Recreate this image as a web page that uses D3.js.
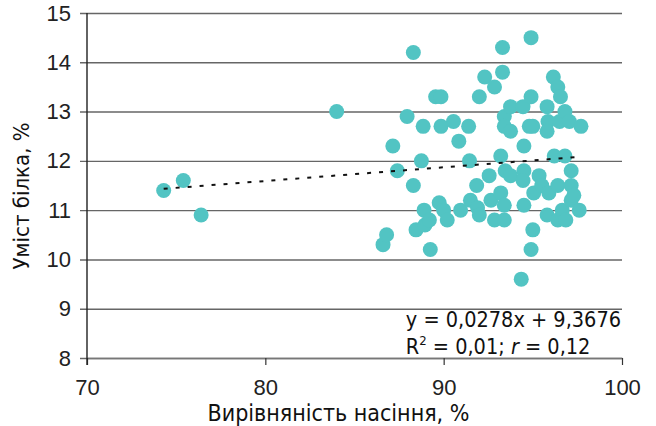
<!DOCTYPE html>
<html>
<head>
<meta charset="utf-8">
<script src="https://cdn.jsdelivr.net/npm/d3@7"></script>
<style>
  body { margin: 0; background: #fff; }
  svg { display: block; font-family: "DejaVu Sans Condensed", "DejaVu Sans", sans-serif; }
</style>
</head>
<body>
<svg id="chart" width="656" height="426"></svg>
<script>
// seed evenness, % (x) and protein content, % (y)
const evenness = [
  74.3, 75.4, 76.4, 84.0,
  86.6, 86.8, 87.15, 87.4, 87.95, 88.3, 88.3, 88.45, 88.75, 88.85, 88.9, 88.95,
  89.2, 89.25, 89.55, 89.85, 89.85, 89.75, 90.0, 90.2, 90.55, 90.85, 90.95,
  91.4, 91.45, 91.5, 91.85, 91.9, 92.0, 92.0, 92.3, 92.55, 92.65, 92.85, 92.85,
  93.2, 93.3, 93.3, 93.2, 93.4, 93.4, 93.4, 93.4, 93.45, 93.75, 93.75, 93.75,
  94.35, 94.45, 94.5, 94.5, 94.45, 94.5, 94.9, 94.9, 94.8, 95.0, 94.9, 95.0,
  95.05, 95.35, 95.5, 95.8, 95.85, 95.8, 95.9, 95.8, 96.15, 96.2, 96.4, 96.4,
  96.4, 96.5, 96.55, 96.65, 96.8, 96.8, 96.85, 97.05, 97.15, 97.15, 97.15,
  97.3, 97.6, 97.7
];
const protein = [
  11.4, 11.6, 10.9, 13.0,
  10.3, 10.5, 12.3, 11.8, 12.9, 14.2, 11.5, 10.6, 12.0, 12.7, 11.0, 10.7,
  10.8, 10.2, 13.3, 13.3, 12.7, 11.15, 11.0, 10.8, 12.8, 12.4, 11.0,
  12.7, 12.0, 11.2, 11.5, 11.05, 13.3, 10.9, 13.7, 11.7, 11.2, 13.5, 10.8,
  12.1, 14.3, 13.8, 11.35, 12.9, 12.7, 11.1, 10.8, 11.8, 13.1, 12.6, 11.7,
  9.6, 13.1, 12.3, 11.8, 11.6, 11.1, 14.5, 13.3, 12.7, 12.7, 10.2, 10.6,
  11.35, 11.7, 11.5, 13.1, 12.8, 12.6, 11.35, 10.9, 13.7, 12.1, 13.5, 11.5,
  10.8, 12.8, 13.3, 11.0, 13.0, 12.1, 10.8, 12.8, 11.8, 11.5, 11.2,
  11.3, 11.0, 12.7
];
const xTicks = [70, 80, 90, 100];
const yTicks = [8, 9, 10, 11, 12, 13, 14, 15];
const slope = 0.0278, intercept = 9.3676;

const svg = d3.select("#chart");
const W = 656, H = 426;
const margin = { top: 13, right: 34, bottom: 68, left: 87 };
const width = W - margin.left - margin.right;
const height = H - margin.top - margin.bottom;

const g = svg.append("g").attr("transform", `translate(${margin.left},${margin.top})`);

const x = d3.scaleLinear().domain([70, 100]).range([0, width]);
const y = d3.scaleLinear().domain([8, 15]).range([height, 0]);

// Y axis with gridlines
g.append("g")
  .attr("class", "yAxis")
  .call(d3.axisLeft(y).tickValues(yTicks).tickFormat(d3.format("d"))
    .tickSizeInner(-width).tickSizeOuter(0).tickPadding(16))
  .call((a) => a.select(".domain").remove())
  .call((a) => a.selectAll(".tick line").attr("x1", -7).attr("stroke", "#666").attr("stroke-width", 1.4))
  .call((a) => a.selectAll(".tick text").attr("font-size", 22).attr("fill", "#222"));

// X axis
g.append("g")
  .attr("class", "xAxis")
  .attr("transform", `translate(0,${height})`)
  .call(d3.axisBottom(x).tickValues(xTicks).tickFormat(d3.format("d"))
    .tickSizeInner(7).tickSizeOuter(0).tickPadding(14))
  .call((a) => a.select(".domain").attr("stroke", "#777").attr("stroke-width", 1.4))
  .call((a) => a.selectAll(".tick line").attr("stroke", "#333").attr("stroke-width", 1.2))
  .call((a) => a.selectAll(".tick text").attr("font-size", 22).attr("fill", "#222"));

// vertical axis line
g.append("line")
  .attr("x1", 0).attr("x2", 0)
  .attr("y1", 0).attr("y2", height + 7)
  .attr("stroke", "#222").attr("stroke-width", 1.4);

// points
const pts = evenness.map((v, i) => ({ x: v, y: protein[i] }));
g.append("g")
  .selectAll("circle")
  .data(pts)
  .join("circle")
  .attr("cx", (d) => x(d.x))
  .attr("cy", (d) => y(d.y))
  .attr("r", 7.5)
  .attr("fill", "#52c4c3");

// trend line
const ext = d3.extent(evenness);
g.append("path")
  .datum(ext)
  .attr("fill", "none")
  .attr("stroke", "#111")
  .attr("stroke-width", 2)
  .attr("stroke-dasharray", "4,8")
  .attr("d", d3.line().x((d) => x(d)).y((d) => y(slope * d + intercept)));

// equation
const eq = g.append("g").attr("font-size", 21.5).attr("fill", "#111");
const l1 = eq.append("text")
  .attr("x", x(100) - 1).attr("y", y(8) - 31)
  .attr("text-anchor", "end")
  .text("y = 0,0278x + 9,3676");
const left = x(100) - 1 - l1.node().getComputedTextLength();
const l2 = eq.append("text").attr("x", left).attr("y", y(8) - 4);
l2.append("tspan").text("R");
l2.append("tspan").attr("font-size", 13).attr("dy", -9).text("2");
l2.append("tspan").attr("dy", 9).text(" = 0,01; ");
l2.append("tspan").attr("font-style", "italic").text("r");
l2.append("tspan").text(" = 0,12");

// axis titles
svg.append("text")
  .attr("x", margin.left + width / 2 - 16)
  .attr("y", H - 5)
  .attr("text-anchor", "middle")
  .attr("font-size", 23)
  .attr("fill", "#111")
  .text("Вирівняність насіння, %");

svg.append("text")
  .attr("transform", `translate(29,${margin.top + 183}) rotate(-90)`)
  .attr("text-anchor", "middle")
  .attr("font-size", 22)
  .attr("fill", "#111")
  .text("Уміст білка, %");
</script>
</body>
</html>
